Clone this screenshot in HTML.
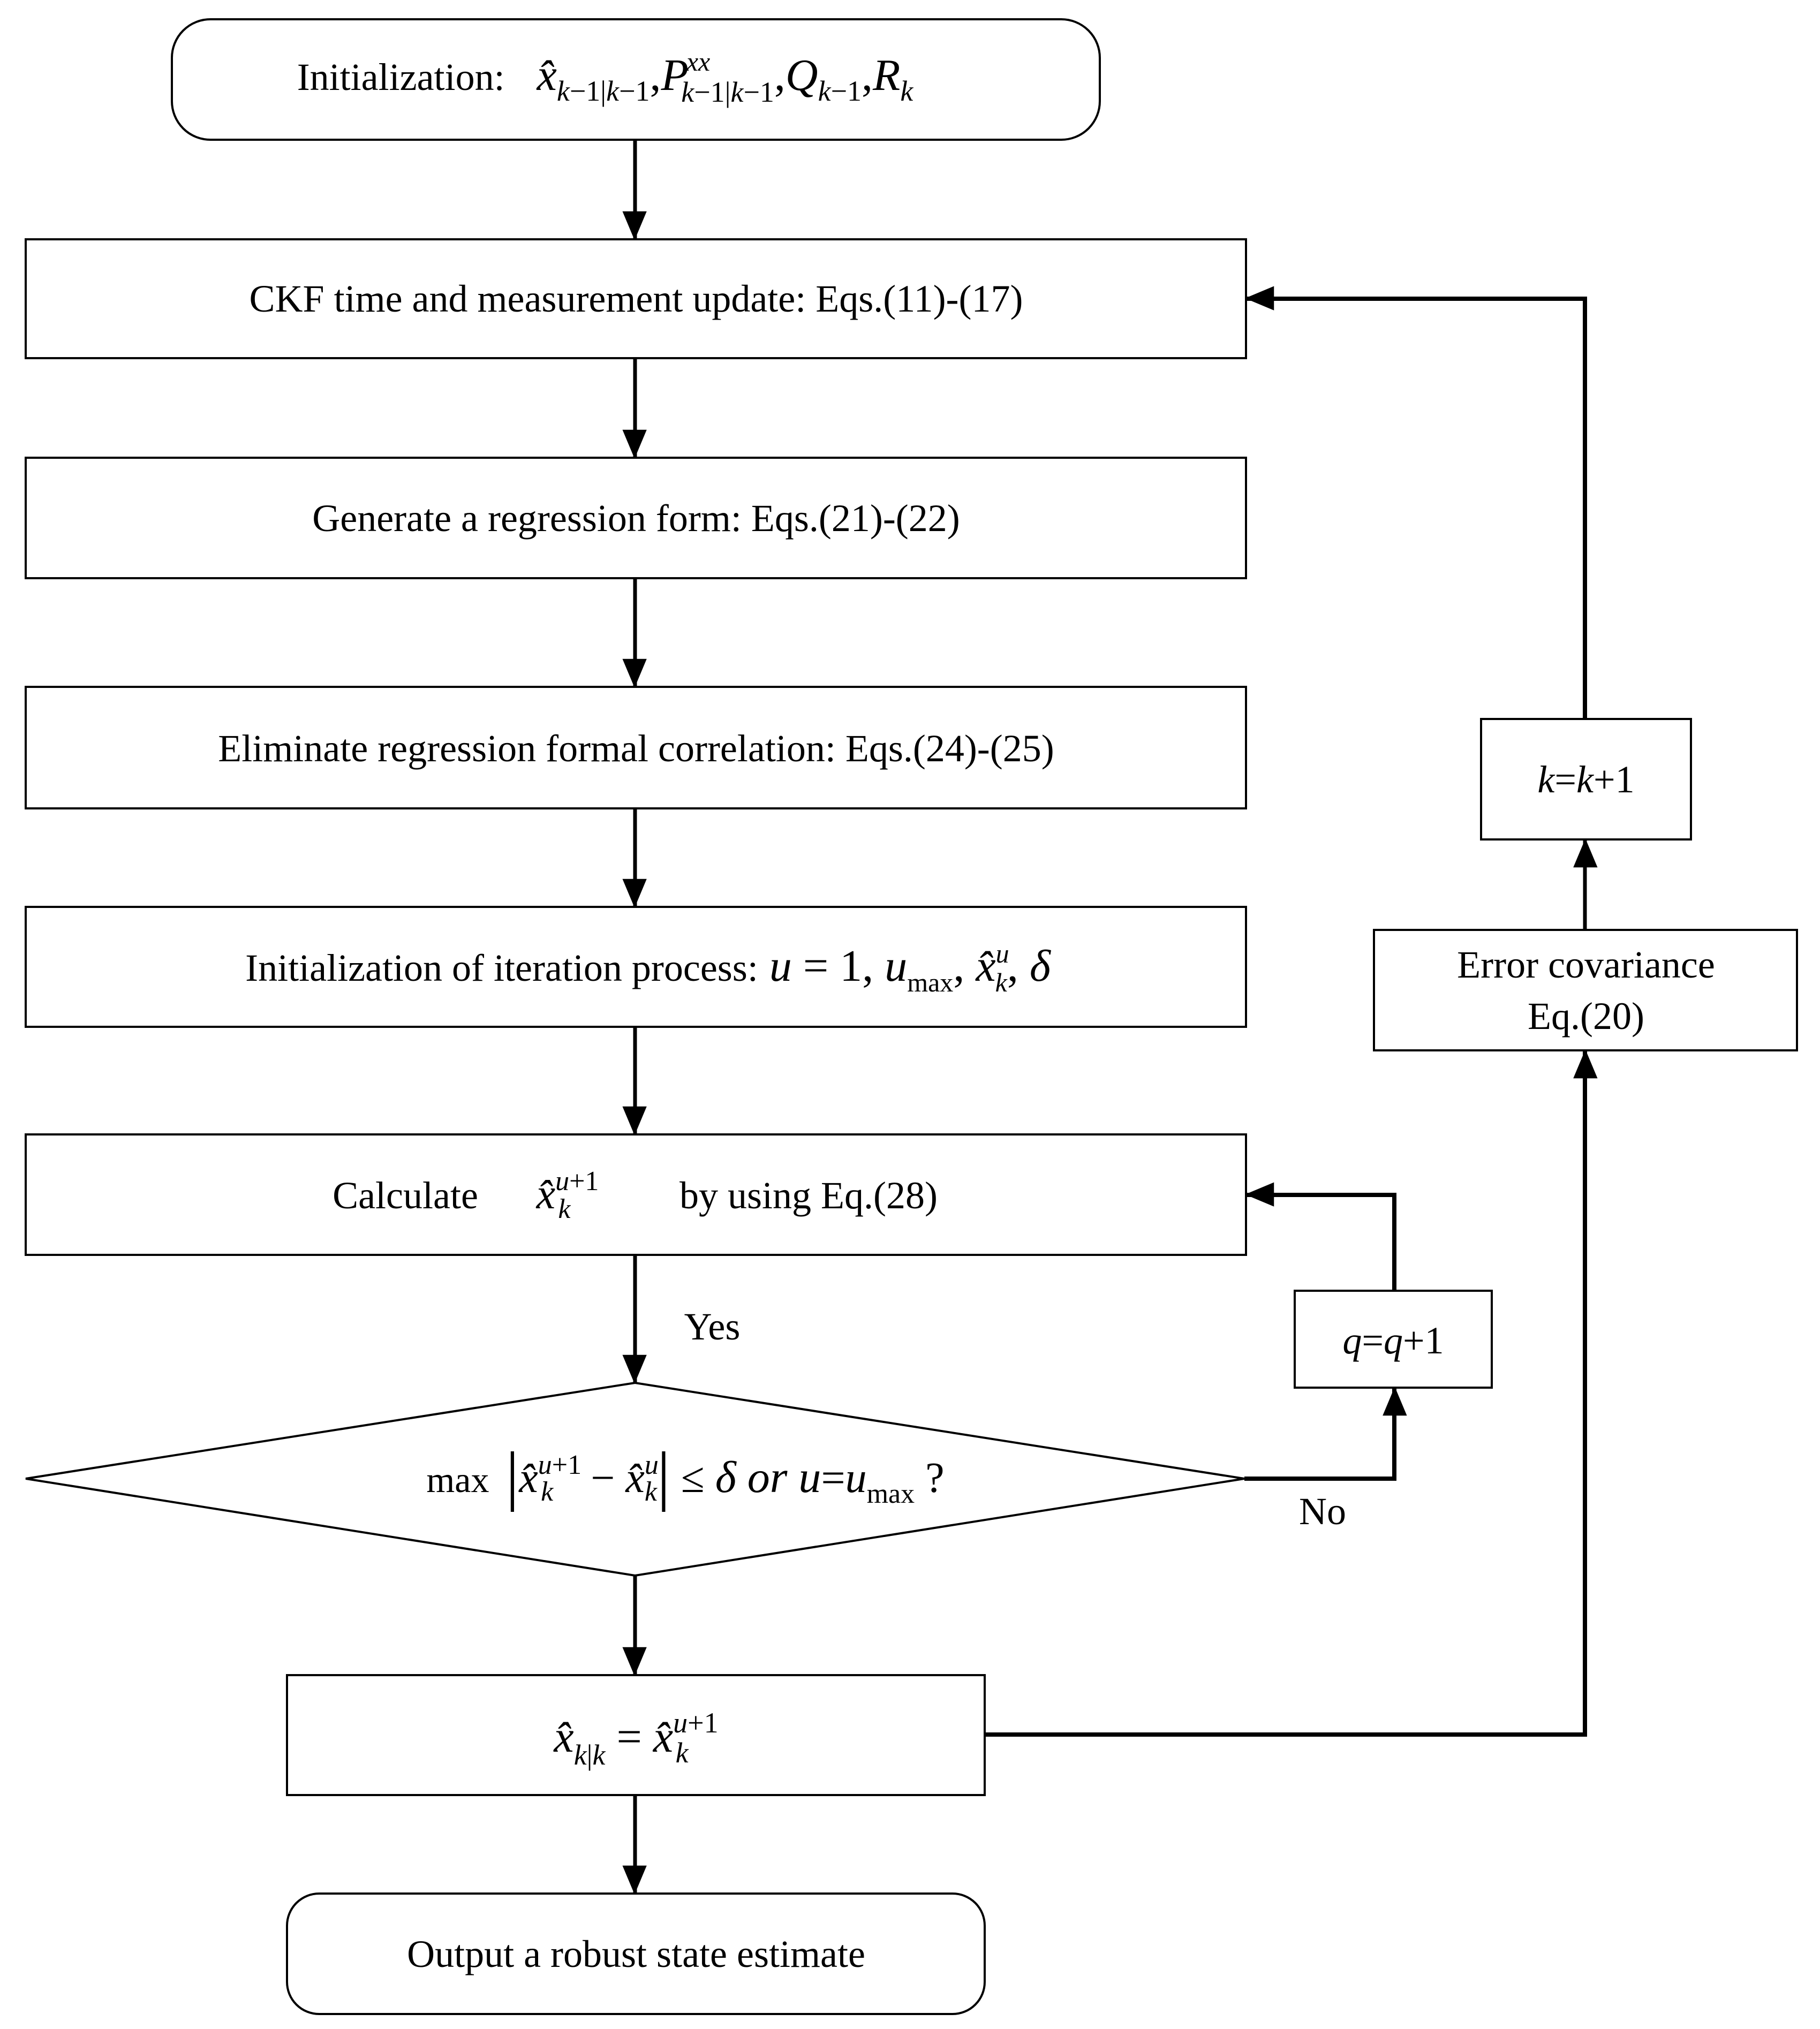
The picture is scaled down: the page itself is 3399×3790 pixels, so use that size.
<!DOCTYPE html>
<html><head><meta charset="utf-8"><style>
html,body{margin:0;padding:0;background:#fff}
svg{display:block}
text{font-family:"Liberation Serif",serif;fill:#000}
.i{font-style:italic}
</style></head><body>
<svg width="3399" height="3790" viewBox="0 0 3399 3790" xmlns="http://www.w3.org/2000/svg">
<defs>
<marker id="a" markerUnits="userSpaceOnUse" markerWidth="54" markerHeight="62" refX="60" refY="26" orient="auto" viewBox="0 0 62 54">
<path d="M0,0 L62,26 L0,52 Z" fill="#000" transform="translate(0,1)"/>
</marker>
</defs>
<g fill="none" stroke="#000" stroke-width="4">
<rect x="321" y="36" width="1733" height="225" rx="72"/>
<rect x="48" y="447" width="2279" height="222"/>
<rect x="48" y="855" width="2279" height="225"/>
<rect x="48" y="1283" width="2279" height="227"/>
<rect x="48" y="1694" width="2279" height="224"/>
<rect x="48" y="2119" width="2279" height="225"/>
<polygon points="48,2762 1186,2583 2324,2762 1186,2943"/>
<rect x="536" y="3129" width="1303" height="224"/>
<rect x="536" y="3537" width="1303" height="225" rx="60"/>
<rect x="2766" y="1343" width="392" height="225"/>
<rect x="2566" y="1737" width="790" height="225"/>
<rect x="2418" y="2411" width="368" height="181"/>
</g>
<g fill="none" stroke="#000" stroke-width="7" marker-end="url(#a)">
<line x1="1186" y1="261" x2="1186" y2="447"/>
<line x1="1186" y1="669" x2="1186" y2="855"/>
<line x1="1186" y1="1080" x2="1186" y2="1283"/>
<line x1="1186" y1="1510" x2="1186" y2="1694"/>
<line x1="1186" y1="1918" x2="1186" y2="2119"/>
<line x1="1186" y1="2344" x2="1186" y2="2583"/>
<line x1="1186" y1="2943" x2="1186" y2="3129"/>
<line x1="1186" y1="3353" x2="1186" y2="3537"/>
<polyline points="1839,3240 2960,3240 2960,1962" stroke-width="8"/>
<line x1="2960" y1="1737" x2="2960" y2="1568"/>
<polyline points="2960,1343 2960,558 2327,558" stroke-width="8"/>
<polyline points="2324,2762 2604,2762 2604,2592" stroke-width="8"/>
<polyline points="2604,2411 2604,2232 2327,2232" stroke-width="8"/>
</g>
<g font-size="72" text-anchor="middle">
<text x="1130" y="168"><tspan>Initialization:</tspan><tspan dx="60" class="i" font-size="84">x̂</tspan><tspan class="i" font-size="54" dy="20">k</tspan><tspan font-size="54">−1|</tspan><tspan class="i" font-size="54">k</tspan><tspan font-size="54">−1</tspan><tspan dy="-20" font-size="84">,</tspan><tspan class="i" font-size="84">P</tspan><tspan class="i" font-size="50" dy="-36" dx="-4">xx</tspan><tspan font-size="54" dy="58" dx="-54" class="i">k</tspan><tspan font-size="54">−1|</tspan><tspan class="i" font-size="54">k</tspan><tspan font-size="54">−1</tspan><tspan dy="-22" font-size="84">,</tspan><tspan class="i" font-size="84">Q</tspan><tspan class="i" font-size="54" dy="20">k</tspan><tspan font-size="54">−1</tspan><tspan dy="-20" font-size="84">,</tspan><tspan class="i" font-size="84">R</tspan><tspan class="i" font-size="54" dy="20">k</tspan></text>
<text x="1188" y="582">CKF time and measurement update: Eqs.(11)-(17)</text>
<text x="1188" y="992">Generate a regression form: Eqs.(21)-(22)</text>
<text x="1188" y="1422">Eliminate regression formal correlation: Eqs.(24)-(25)</text>
<text x="1210" y="1832">Initialization of iteration process:<tspan class="i" font-size="84"> u</tspan><tspan font-size="84"> = 1, </tspan><tspan class="i" font-size="84">u</tspan><tspan font-size="50" dy="20">max</tspan><tspan dy="-20" font-size="84">, </tspan><tspan class="i" font-size="84">x̂</tspan><tspan class="i" font-size="50" dy="-34">u</tspan><tspan class="i" font-size="50" dy="54" dx="-26">k</tspan><tspan dy="-20" font-size="84">, </tspan><tspan class="i" font-size="84">δ</tspan></text>
<text x="757" y="2257" text-anchor="middle">Calculate</text>
<text x="1060" y="2257" class="i" font-size="80">x̂<tspan font-size="52" dy="-34">u</tspan><tspan font-size="52" font-style="normal">+1</tspan><tspan font-size="52" dy="52" dx="-76">k</tspan></text>
<text x="1510" y="2257">by using Eq.(28)</text>
<text x="1330" y="2502">Yes</text>
<text x="2470" y="2847">No</text>
<text x="1280" y="2787"><tspan font-size="68">max</tspan><tspan font-size="124" dy="10"> |</tspan><tspan class="i" dy="-10" font-size="80">x̂</tspan><tspan class="i" font-size="52" dy="-34">u</tspan><tspan font-size="52">+1</tspan><tspan class="i" font-size="52" dy="50" dx="-76">k</tspan><tspan dy="-16" dx="50" font-size="80"> − </tspan><tspan class="i" font-size="80">x̂</tspan><tspan class="i" font-size="52" dy="-34">u</tspan><tspan class="i" font-size="52" dy="50" dx="-26">k</tspan><tspan font-size="124" dy="-6">|</tspan><tspan dy="-10" font-size="80"> ≤ </tspan><tspan class="i" font-size="84">δ or u</tspan><tspan font-size="80">=</tspan><tspan class="i" font-size="80">u</tspan><tspan font-size="52" dy="20">max</tspan><tspan dy="-20" font-size="80"> ?</tspan></text>
<text x="1188" y="3272" class="i" font-size="84">x̂<tspan font-size="54" dy="24">k</tspan><tspan font-size="54" font-style="normal">|</tspan><tspan font-size="54">k</tspan><tspan font-style="normal" dy="-24"> = </tspan>x̂<tspan font-size="54" dy="-36">u</tspan><tspan font-size="54" font-style="normal">+1</tspan><tspan font-size="54" dy="56" dx="-80">k</tspan></text>
<text x="1188" y="3674">Output a robust state estimate</text>
<text x="2962" y="1480"><tspan class="i">k</tspan>=<tspan class="i">k</tspan>+1</text>
<text x="2962" y="1826">Error covariance</text>
<text x="2962" y="1922">Eq.(20)</text>
<text x="2602" y="2528"><tspan class="i">q</tspan>=<tspan class="i">q</tspan>+1</text>
</g>
</svg>
</body></html>
